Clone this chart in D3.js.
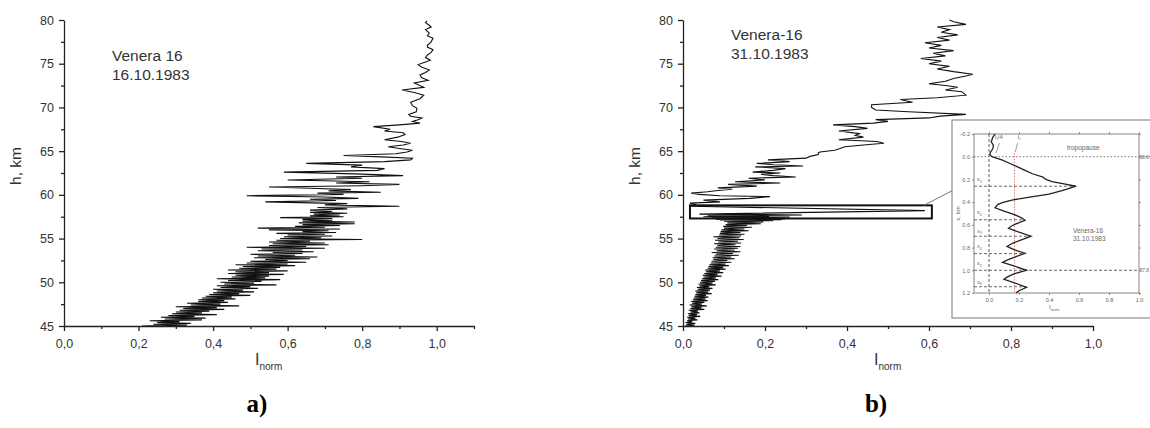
<!DOCTYPE html>
<html><head><meta charset="utf-8">
<script src="https://cdn.jsdelivr.net/npm/d3@7"></script>
<style>
body{margin:0;background:#fff}
svg{display:block}
</style>
</head><body>
<svg id="c" width="1150" height="428" font-family="Liberation Sans, Arial, sans-serif"></svg>
<script>
// ---------- DATA ----------
// Panel a: Venera 16, 16.10.1983  [h (km), I_norm]
const profileA = [
[45.0,0.21],[45.1,0.33],[45.2,0.24],[45.3,0.34],[45.4,0.25],[45.5,0.31],[45.6,0.23],[45.7,0.37],[45.8,0.27],[45.9,0.38],
[46.0,0.26],[46.1,0.35],[46.2,0.28],[46.3,0.41],[46.4,0.29],[46.5,0.37],[46.6,0.30],[46.7,0.39],[46.8,0.31],[46.9,0.43],
[47.0,0.32],[47.1,0.41],[47.2,0.30],[47.3,0.47],[47.4,0.34],[47.5,0.42],[47.6,0.33],[47.7,0.44],[47.8,0.36],[47.9,0.43],
[48.0,0.36],[48.1,0.46],[48.2,0.37],[48.3,0.45],[48.4,0.38],[48.5,0.50],[48.6,0.39],[48.7,0.47],[48.8,0.40],[48.9,0.51],
[49.0,0.41],[49.1,0.48],[49.2,0.40],[49.3,0.52],[49.4,0.42],[49.5,0.50],[49.6,0.41],[49.7,0.57],[49.8,0.43],[49.9,0.51],
[50.0,0.42],[50.1,0.53],[50.2,0.44],[50.3,0.58],[50.4,0.41],[50.5,0.54],[50.6,0.45],[50.7,0.55],[50.8,0.46],[50.9,0.59],
[51.0,0.44],[51.1,0.55],[51.2,0.46],[51.3,0.60],[51.4,0.44],[51.5,0.57],[51.6,0.47],[51.7,0.58],[51.8,0.48],[51.9,0.62],
[52.0,0.46],[52.1,0.60],[52.2,0.49],[52.3,0.65],[52.4,0.50],[52.5,0.60],[52.6,0.54],[52.7,0.66],[52.8,0.51],[52.9,0.68],
[53.0,0.52],[53.1,0.62],[53.2,0.50],[53.3,0.64],[53.4,0.56],[53.5,0.67],[53.6,0.52],[53.7,0.64],[53.8,0.53],[53.9,0.70],
[54.0,0.49],[54.1,0.65],[54.2,0.55],[54.3,0.71],[54.4,0.56],[54.5,0.70],[54.6,0.55],[54.7,0.66],[54.8,0.57],[54.9,0.80],
[55.0,0.58],[55.1,0.69],[55.2,0.59],[55.3,0.72],[55.4,0.60],[55.5,0.70],[55.6,0.57],[55.7,0.73],[55.8,0.64],[55.9,0.71],
[56.0,0.55],[56.1,0.74],[56.2,0.52],[56.3,0.70],[56.4,0.62],[56.5,0.74],[56.6,0.64],[56.7,0.78],[56.8,0.63],[56.9,0.78],
[57.0,0.64],[57.1,0.72],[57.2,0.64],[57.3,0.72],[57.4,0.58],[57.5,0.75],[57.6,0.66],[57.7,0.74],[57.8,0.67],[57.9,0.76],
[58.0,0.66],[58.1,0.72],[58.25,0.66],[58.4,0.76],[58.55,0.68],[58.7,0.90],[58.85,0.70],[59.0,0.76],[59.2,0.54],[59.35,0.73],
[59.5,0.66],[59.6,0.79],[59.75,0.70],[59.9,0.49],[60.05,0.75],[60.2,0.68],[60.3,0.85],[60.45,0.71],[60.6,0.77],[60.75,0.66],
[60.9,0.55],[61.05,0.80],[61.2,0.90],[61.35,0.73],[61.5,0.82],[61.7,0.60],[61.9,0.80],[62.05,0.73],[62.2,0.91],[62.4,0.78],
[62.6,0.59],[62.8,0.84],[63.0,0.86],[63.2,0.77],[63.4,0.80],[63.6,0.65],[63.8,0.86],[64.0,0.93],[64.2,0.935],[64.35,0.85],
[64.5,0.75],[64.7,0.89],[64.9,0.92],[65.1,0.935],[65.3,0.90],[65.5,0.87],[65.7,0.91],[65.9,0.93],[66.1,0.905],[66.3,0.86],
[66.6,0.895],[66.9,0.915],[67.1,0.91],[67.3,0.86],[67.5,0.875],[67.8,0.83],[68.0,0.90],[68.2,0.955],[68.4,0.935],[68.6,0.95],
[68.8,0.96],[69.0,0.93],[69.2,0.925],[69.5,0.945],[69.9,0.947],[70.2,0.935],[70.6,0.93],[71.0,0.955],[71.4,0.965],[71.7,0.94],
[72.0,0.907],[72.3,0.965],[72.6,0.95],[72.8,0.94],[73.1,0.977],[73.4,0.96],[73.7,0.955],[74.0,0.97],[74.3,0.98],[74.6,0.96],
[74.9,0.95],[75.2,0.97],[75.4,0.983],[75.7,0.97],[76.0,0.975],[76.3,0.985],[76.6,0.99],[76.9,0.975],[77.1,0.975],[77.5,0.985],
[77.9,0.99],[78.2,0.975],[78.5,0.98],[78.9,0.97],[79.2,0.985],[79.4,0.98],[79.7,0.97],[79.9,0.974]
];

// Panel b: Venera-16, 31.10.1983  [h (km), I_norm]
const profileB = [
[45.0,0.005],[45.1,0.028],[45.2,0.008],[45.3,0.030],[45.4,0.006],[45.5,0.022],[45.6,0.010],[45.7,0.035],[45.8,0.012],[45.9,0.030],
[46.0,0.010],[46.1,0.042],[46.2,0.014],[46.3,0.034],[46.4,0.012],[46.5,0.040],[46.6,0.018],[46.7,0.036],[46.8,0.014],[46.9,0.052],
[47.0,0.018],[47.1,0.045],[47.2,0.020],[47.3,0.058],[47.4,0.016],[47.5,0.046],[47.6,0.022],[47.7,0.052],[47.8,0.020],[47.9,0.060],
[48.0,0.024],[48.1,0.055],[48.2,0.026],[48.3,0.062],[48.4,0.028],[48.5,0.056],[48.6,0.030],[48.7,0.070],[48.8,0.032],[48.9,0.062],
[49.0,0.030],[49.1,0.066],[49.2,0.036],[49.3,0.072],[49.4,0.034],[49.5,0.064],[49.6,0.040],[49.7,0.080],[49.8,0.038],[49.9,0.072],
[50.0,0.042],[50.1,0.078],[50.2,0.044],[50.3,0.086],[50.4,0.046],[50.5,0.080],[50.6,0.050],[50.7,0.094],[50.8,0.048],[50.9,0.084],
[51.0,0.052],[51.1,0.098],[51.2,0.056],[51.3,0.090],[51.4,0.054],[51.5,0.104],[51.6,0.060],[51.7,0.098],[51.8,0.062],[51.9,0.112],
[52.0,0.064],[52.1,0.104],[52.2,0.068],[52.3,0.118],[52.4,0.070],[52.5,0.108],[52.6,0.074],[52.7,0.126],[52.8,0.072],[52.9,0.118],
[53.0,0.076],[53.1,0.136],[53.2,0.080],[53.3,0.122],[53.4,0.070],[53.5,0.140],[53.6,0.082],[53.7,0.126],[53.8,0.076],[53.9,0.134],
[54.0,0.080],[54.1,0.140],[54.2,0.084],[54.3,0.128],[54.4,0.076],[54.5,0.142],[54.6,0.086],[54.7,0.134],[54.8,0.078],[54.9,0.148],
[55.0,0.084],[55.1,0.138],[55.2,0.074],[55.3,0.142],[55.4,0.088],[55.5,0.150],[55.6,0.090],[55.7,0.140],[55.8,0.092],[55.9,0.160],
[56.0,0.094],[56.1,0.150],[56.2,0.100],[56.3,0.168],[56.4,0.098],[56.5,0.156],[56.6,0.104],[56.7,0.190],[56.8,0.108],[56.9,0.196],
[57.0,0.100],[57.05,0.22],[57.1,0.09],[57.15,0.24],[57.2,0.08],[57.25,0.25],[57.3,0.06],[57.35,0.23],[57.4,0.07],[57.45,0.26],
[57.5,0.05],[57.55,0.21],[57.6,0.06],[57.7,0.29],[57.8,0.04],[58.2,0.59],[58.7,0.02],[58.9,0.03],[59.05,0.017],[59.2,0.09],
[59.4,0.05],[59.6,0.163],[59.8,0.212],[59.9,0.09],[60.05,0.04],[60.2,0.02],[60.35,0.06],[60.5,0.085],[60.65,0.12],[60.8,0.085],
[61.0,0.18],[61.2,0.11],[61.35,0.237],[61.5,0.127],[61.7,0.20],[61.9,0.16],[62.05,0.275],[62.2,0.22],[62.35,0.19],[62.5,0.237],
[62.6,0.17],[62.8,0.22],[63.0,0.25],[63.2,0.176],[63.3,0.293],[63.45,0.22],[63.6,0.18],[63.8,0.26],[64.0,0.207],[64.2,0.30],
[64.4,0.31],[64.6,0.33],[64.8,0.33],[64.9,0.334],[65.1,0.37],[65.3,0.383],[65.5,0.395],[65.7,0.44],[65.9,0.49],[66.1,0.473],
[66.3,0.38],[66.6,0.44],[66.8,0.42],[67.0,0.43],[67.3,0.38],[67.6,0.45],[67.8,0.42],[68.0,0.366],[68.2,0.464],[68.4,0.50],
[68.6,0.47],[68.8,0.60],[69.0,0.627],[69.2,0.69],[69.5,0.55],[69.7,0.47],[70.0,0.46],[70.3,0.46],[70.6,0.56],[70.9,0.53],
[71.1,0.62],[71.4,0.69],[71.8,0.68],[72.0,0.64],[72.3,0.67],[72.5,0.64],[72.7,0.60],[73.0,0.64],[73.3,0.66],[73.6,0.69],
[73.8,0.707],[74.1,0.66],[74.4,0.62],[74.7,0.65],[75.0,0.60],[75.3,0.63],[75.6,0.58],[75.9,0.64],[76.2,0.61],[76.5,0.66],
[76.8,0.60],[77.1,0.63],[77.4,0.59],[77.7,0.65],[78.0,0.62],[78.3,0.67],[78.6,0.63],[78.9,0.65],[79.2,0.62],[79.5,0.69],
[79.8,0.66],[80.0,0.65]
];

// Inset: distance below tropopause x (km) vs I_norm
const insetProfile = [
[-0.20,0.04],[-0.17,0.025],[-0.13,0.015],[-0.10,0.03],[-0.07,0.025],[-0.04,0.01],[-0.02,0.005],[0.00,0.02],[0.03,0.09],[0.06,0.14],
[0.09,0.19],[0.12,0.24],[0.15,0.29],[0.18,0.36],[0.20,0.38],[0.22,0.42],[0.24,0.50],[0.26,0.58],[0.28,0.53],[0.30,0.48],
[0.33,0.40],[0.36,0.25],[0.38,0.16],[0.40,0.10],[0.42,0.06],[0.45,0.04],[0.48,0.10],[0.51,0.17],[0.54,0.22],[0.56,0.24],
[0.58,0.20],[0.61,0.15],[0.63,0.13],[0.66,0.19],[0.70,0.28],[0.73,0.22],[0.76,0.16],[0.79,0.12],[0.82,0.17],[0.85,0.24],
[0.88,0.18],[0.91,0.12],[0.93,0.09],[0.96,0.16],[1.00,0.25],[1.03,0.17],[1.06,0.12],[1.08,0.10],[1.11,0.17],[1.15,0.25],
[1.18,0.20],[1.20,0.18]
];
const layerDepth = [0.26, 0.555, 0.70, 0.853, 1.00, 1.145];
const layerPeak  = [0.58, 0.24, 0.28, 0.24, 0.25, 0.25];
const layerLabelDepth = [0.20, 0.49, 0.65, 0.79, 0.94, 1.10];
const thresholdI = 0.17;
const zoomBoxI = [0.017, 0.607];
const zoomBoxH = [57.3, 58.8];

const hTicks = [45,50,55,60,65,70,75,80];
const hMinor = [47.5,52.5,57.5,62.5,67.5,72.5,77.5];
const iTicks = [0,0.2,0.4,0.6,0.8,1.0];
const iMinorA = [0.1,0.3,0.5,0.7,0.9,1.1];
const iMinorB = [0.1,0.3,0.5,0.7,0.9];
const insetXTicks = [0,0.2,0.4,0.6,0.8,1.0];
const insetYTicks = [-0.2,0,0.2,0.4,0.6,0.8,1.0,1.2];

// ---------- DRAW ----------
const SANS = "Liberation Sans, Arial, sans-serif";
const SERIF = "Liberation Serif, Times New Roman, serif";
const svg = d3.select("#c");
const yH = d3.scaleLinear().domain([45,80]).range([326,20]);
const xA = d3.scaleLinear().domain([0,1.1]).range([64,474]);
const xB = d3.scaleLinear().domain([0,1.0]).range([683,1093]);
const commaFmt = d => d3.format(".1f")(d).replace(".", ",");
const axisColor = "#222";

function drawPanel(x, x0, minorI, data, title, letter, titleY) {
  const g = svg.append("g");
  g.append("g").attr("transform",`translate(${x0},0)`)
    .call(d3.axisLeft(yH).tickValues(hMinor).tickSize(3).tickFormat(""))
    .call(s=>s.select(".domain").remove());
  g.append("g").attr("transform",`translate(0,326)`)
    .call(d3.axisBottom(x).tickValues(minorI).tickSize(3).tickFormat(""))
    .call(s=>s.select(".domain").remove());
  g.append("g").attr("transform",`translate(${x0},0)`)
    .call(d3.axisLeft(yH).tickValues(hTicks).tickSize(5).tickSizeOuter(0).tickPadding(5).tickFormat(d=>d));
  g.append("g").attr("transform",`translate(0,326)`)
    .call(d3.axisBottom(x).tickValues(iTicks).tickSize(5).tickSizeOuter(0).tickPadding(8).tickFormat(commaFmt));
  g.selectAll(".tick line, .domain").attr("stroke",axisColor).attr("stroke-width",1.3);
  g.selectAll(".tick text").attr("font-size",12.5).attr("fill","#333").attr("font-family",SANS);

  g.append("path").datum(data)
    .attr("fill","none").attr("stroke","#111").attr("stroke-width",1.1)
    .attr("d", d3.line().x(d=>x(d[1])).y(d=>yH(d[0])));

  g.append("text").attr("transform",`translate(${x0-43},166) rotate(-90)`)
    .attr("text-anchor","middle").attr("font-size",15.5).attr("fill","#333").text("h, km");
  const cx = (x.range()[0]+x.range()[1])/2 - 14;
  const xl = g.append("text").attr("x",cx).attr("y",365).attr("font-size",16).attr("fill","#333");
  xl.append("tspan").text("I");
  xl.append("tspan").attr("font-size",10).attr("dy",5).text("norm");
  const t = g.append("text").attr("x",x0 + 48).attr("y",titleY).attr("font-size",15.5).attr("fill","#333");
  t.append("tspan").attr("x",x0+48).text(title[0]);
  t.append("tspan").attr("x",x0+48).attr("dy",19).text(title[1]);
  g.append("text").attr("x",cx+2).attr("y",412).attr("text-anchor","middle")
    .style("font-family",SERIF)
    .attr("font-weight","bold").attr("font-size",25).attr("fill","#000").text(letter);
  return g;
}

drawPanel(xA, 64, iMinorA, profileA, ["Venera 16","16.10.1983"], "a)", 61);
const gB = drawPanel(xB, 683, iMinorB, profileB, ["Venera-16","31.10.1983"], "b)", 40);

gB.append("rect")
  .attr("x", xB(zoomBoxI[0])).attr("y", yH(zoomBoxH[1]))
  .attr("width", xB(zoomBoxI[1])-xB(zoomBoxI[0])).attr("height", yH(zoomBoxH[0])-yH(zoomBoxH[1]))
  .attr("fill","none").attr("stroke","#111").attr("stroke-width",2);

// ---------- INSET ----------
const box = {x:952, y:120, w:215, h:198};
const ix = d3.scaleLinear().domain([-0.1,1.0]).range([974,1139]);
const iy = d3.scaleLinear().domain([-0.2,1.2]).range([134,293]);
gB.append("line")
  .attr("x1", xB(zoomBoxI[1]) - 8).attr("y1", yH(zoomBoxH[1]))
  .attr("x2", box.x).attr("y2", iy(0.3))
  .attr("stroke","#666").attr("stroke-width",0.9);

const gi = svg.append("g");
gi.append("rect").attr("x",box.x).attr("y",box.y).attr("width",box.w).attr("height",box.h)
  .attr("fill","#fff").attr("stroke","#777").attr("stroke-width",1);
gi.append("rect").attr("x",ix.range()[0]).attr("y",iy.range()[0])
  .attr("width",ix.range()[1]-ix.range()[0]).attr("height",iy.range()[1]-iy.range()[0])
  .attr("fill","none").attr("stroke","#666").attr("stroke-width",0.8);
const ifont = 5.5, icol = "#666";
gi.append("g").attr("transform",`translate(${ix.range()[0]},0)`)
  .call(d3.axisLeft(iy).tickValues(insetYTicks).tickSize(2).tickSizeOuter(0).tickPadding(2).tickFormat(d3.format(".1f")));
gi.append("g").attr("transform",`translate(${ix.range()[1]},0)`)
  .call(d3.axisRight(iy).tickValues(insetYTicks).tickSize(2).tickSizeOuter(0).tickFormat(""));
gi.append("g").attr("transform",`translate(0,${iy.range()[1]})`)
  .call(d3.axisBottom(ix).tickValues(insetXTicks).tickSize(2).tickSizeOuter(0).tickPadding(3).tickFormat(d3.format(".1f")));
gi.append("g").attr("transform",`translate(0,${iy.range()[0]})`)
  .call(d3.axisTop(ix).tickValues(insetXTicks).tickSize(2).tickSizeOuter(0).tickFormat(""));
gi.selectAll(".domain").remove();
gi.selectAll(".tick line").attr("stroke","#666").attr("stroke-width",0.7);
gi.selectAll(".tick text").attr("font-size",ifont).attr("fill",icol).attr("font-family",SANS);

gi.append("line").attr("x1",ix(0)).attr("x2",ix(0)).attr("y1",iy(-0.2)).attr("y2",iy(1.2))
  .attr("stroke","#333").attr("stroke-width",0.8).attr("stroke-dasharray","3,2");
gi.append("line").attr("x1",ix(thresholdI)).attr("x2",ix(thresholdI)).attr("y1",iy(-0.03)).attr("y2",iy(1.2))
  .attr("stroke","#d9534f").attr("stroke-width",0.9).attr("stroke-dasharray","1.2,1.6");
gi.append("line").attr("x1",ix(-0.1)).attr("x2",1150).attr("y1",iy(0)).attr("y2",iy(0))
  .attr("stroke","#555").attr("stroke-width",0.8).attr("stroke-dasharray","1.5,2");
layerDepth.forEach((d,i)=>{
  gi.append("line").attr("x1",ix(-0.1)).attr("x2",i===4?ix(1.0):ix(layerPeak[i]))
    .attr("y1",iy(d)).attr("y2",iy(d))
    .attr("stroke","#444").attr("stroke-width",0.8).attr("stroke-dasharray","3,2");
});
gi.append("path").datum(insetProfile).attr("fill","none").attr("stroke","#222").attr("stroke-width",1.3)
  .attr("d", d3.line().x(d=>ix(d[1])).y(d=>iy(d[0])));
layerLabelDepth.forEach((d,i)=>{
  const t = gi.append("text").attr("x",ix(-0.08)).attr("y",iy(d)+2).attr("font-size",5.5).attr("fill",icol);
  t.append("tspan").text("x");
  t.append("tspan").attr("font-size",3.8).attr("dy",1.5).text(i+1);
});
const tl = gi.append("text").attr("x",ix(0.04)).attr("y",iy(-0.16)).attr("font-size",6).attr("fill",icol);
tl.append("tspan").text("I"); tl.append("tspan").attr("font-size",4).attr("dy",1.5).text("t");
tl.append("tspan").attr("dy",-1.5).text("/4");
const tt = gi.append("text").attr("x",ix(0.19)).attr("y",iy(-0.16)).attr("font-size",6).attr("fill",icol);
tt.append("tspan").text("I"); tt.append("tspan").attr("font-size",4).attr("dy",1.5).text("t");
gi.append("line").attr("x1",ix(0.07)).attr("y1",iy(-0.12)).attr("x2",ix(0.045)).attr("y2",iy(-0.03)).attr("stroke","#555").attr("stroke-width",0.6);
gi.append("line").attr("x1",ix(0.19)).attr("y1",iy(-0.12)).attr("x2",ix(0.175)).attr("y2",iy(-0.04)).attr("stroke","#555").attr("stroke-width",0.6);
gi.append("text").attr("x",ix(0.52)).attr("y",iy(-0.06)).attr("font-size",6.5).attr("fill",icol).text("tropopause");
gi.append("text").attr("x",ix(0.56)).attr("y",iy(0.67)).attr("font-size",6.5).attr("fill",icol).text("Venera-16");
gi.append("text").attr("x",ix(0.56)).attr("y",iy(0.745)).attr("font-size",6.5).attr("fill",icol).text("31.10.1983");
gi.append("text").attr("x",1149).attr("y",iy(0)+2).attr("text-anchor","end").attr("font-size",4.8).attr("fill",icol).text("58.8");
gi.append("text").attr("x",1149).attr("y",iy(1.0)+2).attr("text-anchor","end").attr("font-size",4.8).attr("fill",icol).text("57.8");
gi.append("text").attr("transform",`translate(${ix(-0.1)-14},${iy(0.5)}) rotate(-90)`)
  .attr("text-anchor","middle").attr("font-size",6).attr("fill",icol).text("x, km");
const il = gi.append("text").attr("x",ix(0.4)).attr("y",iy(1.2)+16).attr("font-size",6).attr("fill",icol);
il.append("tspan").text("I"); il.append("tspan").attr("font-size",3.8).attr("dy",1.5).text("norm");
</script>
</body></html>
